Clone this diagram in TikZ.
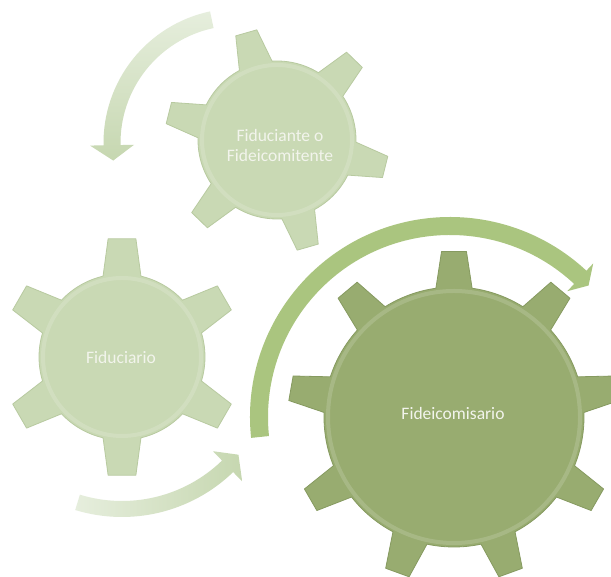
\documentclass[tikz,border=0pt]{standalone}
\usepackage{fontspec}
\newfontfamily\gearfont{Carlito}
\definecolor{gearlight}{RGB}{201,217,180}
\definecolor{gearlightedge}{RGB}{184,202,160}
\definecolor{geardark}{RGB}{152,172,112}
\definecolor{geardarkedge}{RGB}{134,154,96}
\definecolor{arrowbig}{RGB}{170,197,127}
\definecolor{arrowlight}{RGB}{198,215,176}
\definecolor{arrowfade}{RGB}{230,238,221}
\definecolor{labelcol}{RGB}{242,244,236}
% #1 style, #2 cx, #3 cy, #4 teeth, #5 offset, #6 body radius, #7 tip radius, #8 base half-angle, #9 tip half-angle
\newcommand{\gearshape}[9]{%
  \begin{scope}[shift={(#2,#3)}]
    \path[#1] ({#5-#8}:#6)
      \foreach \k in {1,...,#4}{
        -- ({#5+(\k-1)*360/#4-#9}:#7) -- ({#5+(\k-1)*360/#4+#9}:#7)
        -- ({#5+(\k-1)*360/#4+#8}:#6)
        arc[start angle={#5+(\k-1)*360/#4+#8}, end angle={#5+\k*360/#4-#8}, radius=#6]
      } -- cycle;
  \end{scope}}
% #1 style, #2 cx, #3 cy, #4 radius, #5 width, #6 start angle, #7 head base angle, #8 tip angle, #9 head half-width
\newcommand{\arcarrow}[9]{%
  \begin{scope}[shift={(#2,#3)}]
    \path[#1] ({#6}:{#4+#5/2}) arc[start angle=#6, end angle=#7, radius={#4+#5/2}]
      -- ({#7}:{#4+#9}) -- ({#8}:{#4}) -- ({#7}:{#4-#9}) -- ({#7}:{#4-#5/2})
      arc[start angle=#7, end angle=#6, radius={#4-#5/2}] -- cycle;
  \end{scope}}
\begin{document}
\begin{tikzpicture}[x=1pt,y=1pt,
  lightgear/.style={fill=gearlight, draw=gearlightedge, line width=0.8pt, line join=round},
  darkgear/.style={fill=geardark, draw=geardarkedge, line width=0.8pt, line join=round},
  rim/.style={draw=white, opacity=0.15, line width=4pt},
  gearlabel/.style={text=labelcol, font=\gearfont\fontsize{17.5}{20}\selectfont, align=center, inner sep=0pt}]
\useasboundingbox (0,0) rectangle (611,577);
\fill[white] (0,0) rectangle (611,577);
% arrows
\arcarrow{top color=arrowfade, bottom color=arrowlight, draw=none}{238}{434}{126}{17}{102}{181}{188}{22}
\arcarrow{left color=arrowfade, right color=arrowlight, draw=none}{122}{220}{152}{16}{-107}{-46}{-40}{21}
\arcarrow{fill=arrowbig, draw=none}{450}{160}{191}{18}{186}{47}{43.5}{19}
% gears
\gearshape{lightgear}{277}{437}{6}{46}{79}{112}{12.4}{5.6}
\draw[rim] (277,437) circle (75);
\gearshape{lightgear}{122}{220}{6}{30}{83}{119}{13.2}{6.7}
\draw[rim] (122,220) circle (79);
\gearshape{darkgear}{454}{160}{9}{10}{130}{166}{8}{4.3}
\draw[rim] (454,160) circle (126);
% labels
\node[gearlabel] (g1) at (280,432) {Fiduciante o\\Fideicomitente};
\node[gearlabel] (g2) at (121,220) {Fiduciario};
\node[gearlabel] (g3) at (453,164) {Fideicomisario};
\end{tikzpicture}
\end{document}
